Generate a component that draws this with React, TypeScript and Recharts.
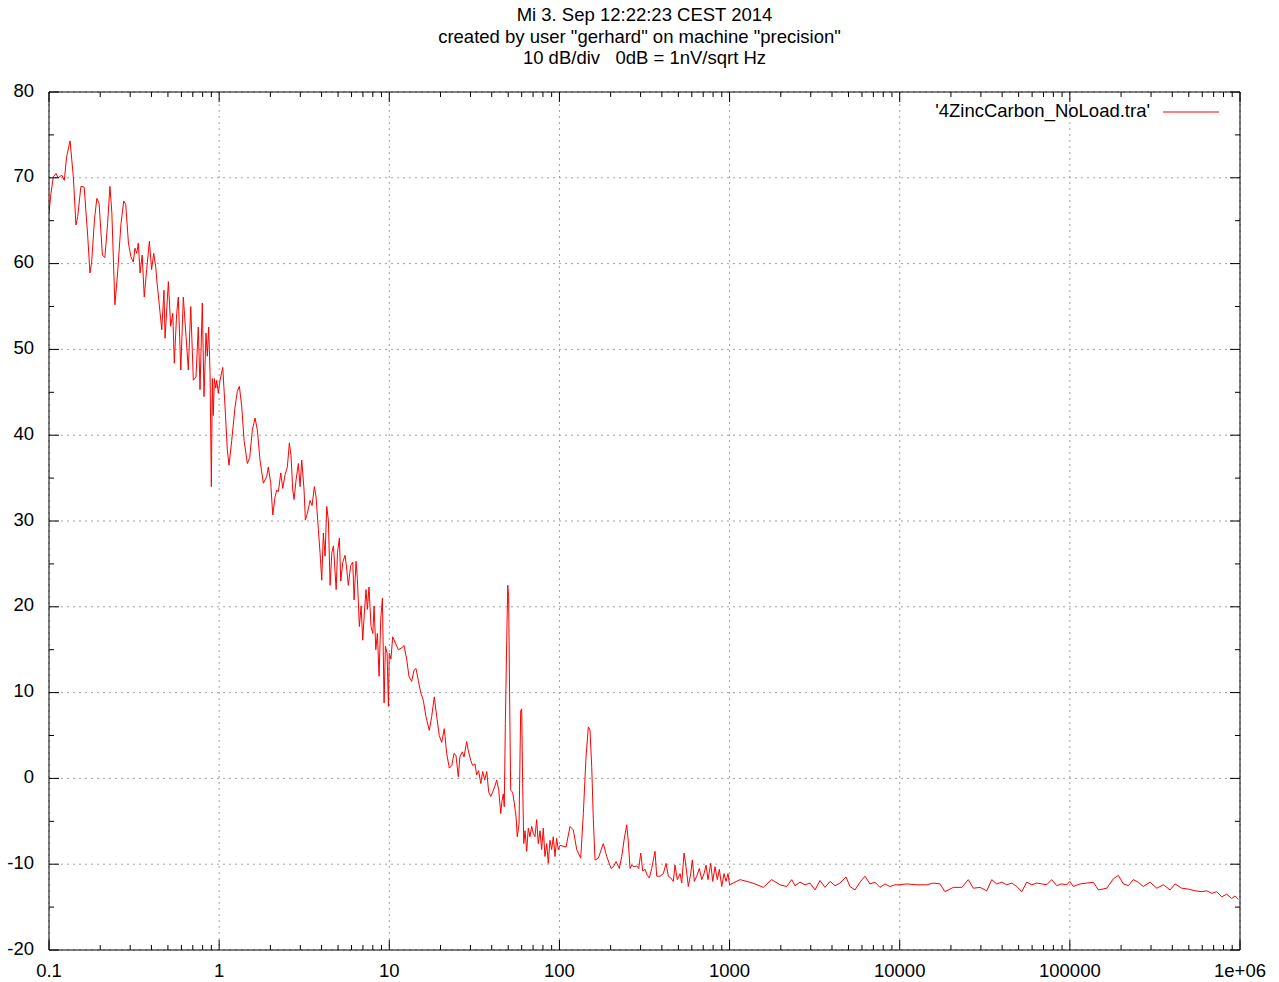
import React from 'react';
import { LineChart, Line, XAxis, YAxis, CartesianGrid } from 'recharts';

const titleLines = [
  'Mi 3. Sep 12:22:23 CEST 2014',
  'created by user "gerhard" on machine "precision"',
  '10 dB/div   0dB = 1nV/sqrt Hz',
];
const titleCenters = [644.5, 639.5, 644.5];
const seriesName = "'4ZincCarbon_NoLoad.tra'";

const xMajorTicks = [0.1, 1, 10, 100, 1000, 10000, 100000, 1000000];
const xTickLabels = ['0.1', '1', '10', '100', '1000', '10000', '100000', '1e+06'];
const xMinorMantissas = [2, 3, 4, 5, 6, 7, 8, 9];
const yMajorTicks = [-20, -10, 0, 10, 20, 30, 40, 50, 60, 70, 80];
const yMinorTicks = [-15, -5, 5, 15, 25, 35, 45, 55, 65, 75];

// [frequency Hz, dB]
const band01to1: [number, number][] = [
  [0.1, 65.9], [0.1027, 68.2], [0.106, 70.1], [0.11, 70.5], [0.113, 70.0], [0.119, 70.3],
  [0.123, 69.7], [0.127, 72.5], [0.133, 74.3], [0.139, 70.1], [0.144, 64.5], [0.1475, 65.5],
  [0.154, 69.0], [0.161, 68.9], [0.169, 63.1], [0.174, 58.9], [0.178, 60.1], [0.185, 65.1],
  [0.191, 67.6], [0.197, 67.0], [0.206, 61.0], [0.213, 60.7], [0.221, 64.7], [0.228, 69.0],
  [0.234, 66.0], [0.244, 55.2], [0.253, 58.9], [0.265, 64.7], [0.275, 67.3], [0.2825, 66.9],
  [0.293, 62.4], [0.303, 60.8], [0.313, 60.2], [0.32, 61.8], [0.328, 61.2], [0.335, 62.4],
  [0.343, 58.9], [0.353, 61.0], [0.363, 56.1], [0.375, 59.3], [0.389, 62.6], [0.401, 59.3],
  [0.4125, 61.2], [0.424, 59.6], [0.43, 58.1], [0.45, 54.2], [0.46, 52.3], [0.474, 56.9],
  [0.481, 51.3], [0.503, 57.9], [0.519, 52.7], [0.534, 54.2], [0.545, 48.4], [0.563, 54.2],
  [0.5755, 56.1], [0.595, 47.6], [0.616, 56.1], [0.639, 51.5], [0.659, 47.6], [0.681, 55.0],
  [0.705, 46.4], [0.731, 46.8], [0.754, 52.6], [0.772, 45.3], [0.796, 55.4], [0.815, 44.5],
  [0.837, 51.9], [0.852, 49.2], [0.868, 52.6], [0.884, 47.3], [0.9, 34.0], [0.912, 46.6],
  [0.924, 42.3], [0.937, 46.6], [0.955, 45.5], [0.968, 46.4], [0.989, 44.9],
];

const band1to10: [number, number][] = [
  [1.012, 46.4], [1.05, 47.9], [1.083, 43.3], [1.117, 38.3], [1.143, 36.5], [1.186, 39.4],
  [1.24, 43.3], [1.279, 45.1], [1.315, 45.7], [1.358, 43.3], [1.401, 39.4], [1.465, 36.7],
  [1.513, 37.4], [1.567, 40.6], [1.626, 42.0], [1.677, 40.6], [1.739, 37.1], [1.819, 34.4],
  [1.904, 35.2], [1.946, 36.3], [2.01, 34.4], [2.066, 30.7], [2.131, 32.8], [2.181, 33.6],
  [2.229, 33.4], [2.302, 35.6], [2.365, 33.8], [2.44, 35.4], [2.517, 36.3], [2.586, 39.1],
  [2.646, 37.6], [2.708, 33.6], [2.756, 32.5], [2.832, 34.8], [2.922, 36.7], [2.989, 34.0],
  [3.058, 37.1], [3.156, 33.6], [3.211, 30.1], [3.3, 30.9], [3.424, 32.4], [3.517, 31.8],
  [3.628, 34.0], [3.713, 32.8], [3.829, 29.0], [3.918, 26.3], [4.009, 23.1], [4.098, 28.6],
  [4.193, 25.9], [4.29, 31.7], [4.386, 30.1], [4.489, 22.5], [4.595, 26.3], [4.697, 27.1],
  [4.873, 22.0], [4.96, 26.3], [5.09, 28.0], [5.187, 23.0], [5.33, 25.2], [5.496, 26.0],
  [5.622, 24.4], [5.744, 22.5], [5.93, 24.8], [6.1, 25.2], [6.21, 20.8], [6.38, 25.3],
  [6.49, 23.3], [6.67, 17.7], [6.83, 20.1], [6.98, 16.1], [7.14, 19.4], [7.3, 22.0],
  [7.43, 19.7], [7.6, 22.3], [7.81, 17.7], [8.0, 16.9], [8.14, 20.1], [8.33, 15.0],
  [8.51, 16.9], [8.71, 11.9], [8.91, 18.6], [9.11, 21.0], [9.32, 8.8], [9.49, 15.4],
  [9.71, 14.6], [9.88, 8.4],
];

const band10to100: [number, number][] = [
  [10.0, 14.6], [10.23, 13.9], [10.47, 16.5], [10.8, 15.9], [11.3, 15.0], [11.83, 15.2],
  [12.2, 15.5], [12.65, 13.9], [13.05, 11.9], [13.54, 11.3], [13.97, 12.6], [14.36, 12.8],
  [14.82, 11.4], [15.3, 10.0], [15.85, 9.1], [16.43, 7.2], [17.18, 5.6], [17.75, 7.2],
  [18.39, 9.5], [19.0, 7.2], [19.67, 5.0], [20.33, 4.2], [21.05, 5.8], [21.75, 2.9],
  [22.53, 1.2], [23.29, 1.5], [24.0, 2.9], [24.65, 2.7], [25.45, 0.2], [26.0, 2.5],
  [26.9, 3.1], [27.5, 2.5], [28.5, 4.3], [29.1, 3.3], [30.1, 2.1], [30.9, 1.5],
  [31.9, 1.7], [32.6, 0.4], [33.5, 0.9], [34.5, -0.6], [35.4, 0.8], [36.4, -0.2],
  [37.4, 0.8], [38.4, -1.6], [39.5, -2.1], [40.5, -1.6], [41.6, -1.0], [42.8, -0.2],
  [44.0, -1.4], [45.2, -4.1], [46.0, -2.6], [46.8, -1.8], [47.4, -3.3], [48.1, 6.4],
  [49.0, 16.1], [49.7, 22.5], [50.3, 21.2], [51.0, 8.8], [51.7, -1.4], [53.1, -1.6],
  [54.3, -2.9], [55.6, -4.5], [56.5, -6.8], [57.9, -5.3], [59.2, 7.9], [60.0, 8.1],
  [60.8, -0.6], [61.7, -7.6], [62.8, -6.1], [64.2, -8.5], [65.6, -5.8], [67.1, -6.8],
  [68.7, -5.6], [70.2, -6.4], [71.8, -6.8], [73.5, -4.8], [75.1, -7.6], [76.9, -6.1],
  [78.6, -8.3], [80.4, -5.8], [82.2, -9.1], [84.2, -7.6], [86.0, -9.9], [88.0, -7.2],
  [90.0, -8.3], [92.0, -6.8], [94.2, -9.1], [96.3, -7.0], [98.5, -8.3],
];

const band100to1k: [number, number][] = [
  [100.8, -7.8], [109.3, -8.0], [115.4, -5.6], [120.7, -6.0], [126.4, -8.3], [133.4, -9.3],
  [138.2, -4.1], [143.3, 2.5], [147.9, 6.0], [151.3, 5.6], [154.8, 1.4], [158.2, -4.8],
  [161.9, -9.5], [169.3, -9.3], [181.1, -7.6], [189.7, -9.1], [201.1, -10.5], [207.4, -10.3],
  [215.1, -9.7], [224.9, -10.5], [232.4, -9.1], [239.7, -7.2], [248.7, -5.4], [254.1, -7.4],
  [260.0, -10.5], [266.0, -10.1], [274.5, -10.3], [284.7, -10.2], [292.5, -10.5], [300.5, -8.7],
  [308.8, -10.8], [318.5, -10.6], [328.6, -11.3], [337.6, -11.6], [348.7, -10.5], [356.3, -9.5],
  [364.6, -8.5], [373.1, -11.4], [390.3, -11.4], [408.1, -11.1], [423.2, -9.9], [436.6, -11.4],
  [451.1, -11.6], [467.2, -12.0], [478.0, -10.1], [493.2, -11.8], [511.7, -11.1], [523.4, -12.2],
  [540.0, -8.7], [554.8, -10.3], [572.3, -12.6], [591.2, -11.1], [604.2, -9.5], [620.7, -12.0],
  [641.3, -11.4], [664.2, -10.5], [686.2, -11.8], [707.8, -11.1], [727.2, -10.1], [747.1, -11.8],
  [774.8, -9.9], [796.2, -12.0], [821.4, -10.3], [847.4, -11.8], [870.7, -10.6], [899.5, -12.6],
  [927.7, -11.1], [953.2, -12.0], [979.3, -11.1], [1000, -12.4],
];

const band1kto1M: [number, number][] = [
  [1152, -11.8], [1318, -12.1], [1411, -12.3], [1578, -12.7], [1767, -11.8], [1979, -12.4],
  [2166, -12.6], [2318, -11.8], [2424, -12.5], [2594, -12.1], [2776, -12.4], [2970, -12.2],
  [3178, -13.0], [3400, -11.9], [3638, -12.7], [3892, -12.0], [4164, -12.5], [4456, -12.2],
  [4834, -11.5], [5102, -12.6], [5460, -13.0], [5840, -12.1], [6250, -11.4], [6690, -12.3],
  [7160, -12.1], [7660, -12.7], [8190, -12.3], [8760, -12.6], [9380, -12.4], [10000, -12.4],
  [10990, -12.3], [12590, -12.4], [14410, -12.4], [15760, -12.2], [17230, -12.3], [18460, -13.2],
  [20660, -12.7], [23140, -12.7], [25300, -11.8], [27090, -12.8], [29660, -12.7], [32470, -13.1],
  [34730, -11.8], [37160, -12.3], [39800, -12.1], [42570, -12.4], [45550, -12.2], [48730, -12.6],
  [52140, -13.2], [55780, -12.1], [59680, -12.4], [63850, -12.2], [68310, -12.3], [73100, -12.4],
  [78200, -11.8], [83700, -12.5], [89500, -12.3], [95800, -12.4], [100000, -12.0], [104800, -12.6],
  [114800, -12.3], [125700, -12.2], [137500, -12.1], [147100, -13.0], [164800, -12.8], [180200, -11.7],
  [192800, -11.3], [206300, -12.3], [220700, -12.5], [236100, -11.8], [252600, -12.1], [270300, -12.6],
  [296200, -12.1], [324300, -12.8], [354600, -12.4], [388100, -13.0], [415400, -12.3], [454800, -12.8],
  [497500, -12.9], [544500, -13.1], [596300, -13.2], [638000, -13.1], [682600, -13.4], [730000, -13.2],
  [781000, -13.8], [836000, -13.5], [894000, -14.0], [935000, -13.7], [978000, -14.1],
];

const data = [...band01to1, ...band1to10, ...band10to100, ...band100to1k, ...band1kto1M].map(
  ([f, v]) => ({ f, v })
);

const xMinorTicks: number[] = [];
xMajorTicks.slice(0, -1).forEach((d) => xMinorMantissas.forEach((m) => xMinorTicks.push(m * d)));
const xAllTicks = [...xMajorTicks, ...xMinorTicks];
const yAllTicks = [...yMajorTicks, ...yMinorTicks];

const FONT = 'Liberation Sans, Arial, Helvetica, sans-serif';
const FS = 18.5;

const makeTick = (orient: 'top' | 'bottom' | 'left' | 'right', majors: number[]) => (props: any) => {
  const { x, y, payload } = props;
  const isMajor = majors.some((m) => Math.abs(m - payload.value) < 1e-9 * Math.max(1, Math.abs(m)));
  const len = isMajor ? 10 : 5;
  let x2 = x;
  let y2 = y;
  if (orient === 'bottom') y2 = y - len;
  if (orient === 'top') y2 = y + len;
  if (orient === 'left') x2 = x + len;
  if (orient === 'right') x2 = x - len;
  return <line x1={x} y1={y} x2={x2} y2={y2} stroke="#000" strokeWidth={1} />;
};

const YLabel = (props: any) => {
  const { x, y, payload } = props;
  return (
    <text x={x} y={y - 2} dy="0.355em" textAnchor="end" fontFamily={FONT} fontSize={FS} fill="#000">
      {payload.value}
    </text>
  );
};

const xFmt = (v: number) => {
  const i = xMajorTicks.findIndex((t) => Math.abs(t - v) < 1e-9 * t);
  return i >= 0 ? xTickLabels[i] : String(v);
};

const xCommon = {
  type: 'number' as const,
  scale: 'log' as const,
  domain: [0.1, 1000000],
  allowDataOverflow: true,
  dataKey: 'f',
  interval: 0 as const,
};
const yCommon = {
  type: 'number' as const,
  domain: [-20, 80],
  allowDataOverflow: true,
  interval: 0 as const,
};

export default function App() {
  return (
    <div style={{ position: 'absolute', left: 0, top: 0, width: 1279, height: 982, background: '#fff' }}>
      <LineChart width={1279} height={982} data={data} margin={{ top: 92, right: 39, bottom: 0, left: 0 }}>
        <XAxis
          {...xCommon}
          xAxisId="main"
          orientation="bottom"
          height={32}
          ticks={xMajorTicks}
          tickFormatter={xFmt}
          tickLine={false}
          axisLine={false}
          tickSize={8}
          tickMargin={6}
          tick={{ fill: '#000', fontSize: FS, fontFamily: FONT }}
        />
        <XAxis
          {...xCommon}
          xAxisId="bm"
          orientation="bottom"
          mirror
          ticks={xAllTicks}
          tickLine={false}
          tickSize={0}
          tickMargin={0}
          axisLine={{ stroke: '#000', strokeWidth: 1 }}
          tick={makeTick('bottom', xMajorTicks)}
        />
        <XAxis
          {...xCommon}
          xAxisId="tm"
          orientation="top"
          mirror
          ticks={xAllTicks}
          tickLine={false}
          tickSize={0}
          tickMargin={0}
          axisLine={{ stroke: '#000', strokeWidth: 1 }}
          tick={makeTick('top', xMajorTicks)}
        />
        <YAxis
          {...yCommon}
          yAxisId="main"
          orientation="left"
          width={49}
          ticks={yMajorTicks}
          tickLine={false}
          axisLine={false}
          tickSize={8}
          tickMargin={7}
          tick={YLabel}
        />
        <YAxis
          {...yCommon}
          yAxisId="lm"
          orientation="left"
          mirror
          ticks={yAllTicks}
          tickLine={false}
          tickSize={0}
          tickMargin={0}
          axisLine={{ stroke: '#000', strokeWidth: 1 }}
          tick={makeTick('left', yMajorTicks)}
        />
        <YAxis
          {...yCommon}
          yAxisId="rm"
          orientation="right"
          mirror
          ticks={yAllTicks}
          tickLine={false}
          tickSize={0}
          tickMargin={0}
          axisLine={{ stroke: '#000', strokeWidth: 1 }}
          tick={makeTick('right', yMajorTicks)}
        />
        <CartesianGrid
          xAxisId="main"
          yAxisId="main"
          stroke="#a0a0a0"
          strokeDasharray="2 4"
          strokeWidth={1}
        />
        <Line
          xAxisId="main"
          yAxisId="main"
          type="linear"
          dataKey="v"
          stroke="#ff0000"
          strokeWidth={1}
          dot={false}
          activeDot={false}
          isAnimationActive={false}
        />
      </LineChart>
      <svg
        width={1279}
        height={982}
        style={{ position: 'absolute', left: 0, top: 0, pointerEvents: 'none' }}
      >
        {titleLines.map((t, i) => (
          <text
            key={i}
            x={titleCenters[i]}
            y={21 + i * 21.5}
            textAnchor="middle"
            fontFamily={FONT}
            fontSize={FS}
            fill="#000"
            style={{ whiteSpace: 'pre' }}
          >
            {t}
          </text>
        ))}
        <text x={1150} y={117} textAnchor="end" fontFamily={FONT} fontSize={FS} fill="#000">
          {seriesName}
        </text>
        <line x1={1163} y1={112} x2={1219} y2={112} stroke="#ff0000" strokeWidth={1} />
      </svg>
    </div>
  );
}
